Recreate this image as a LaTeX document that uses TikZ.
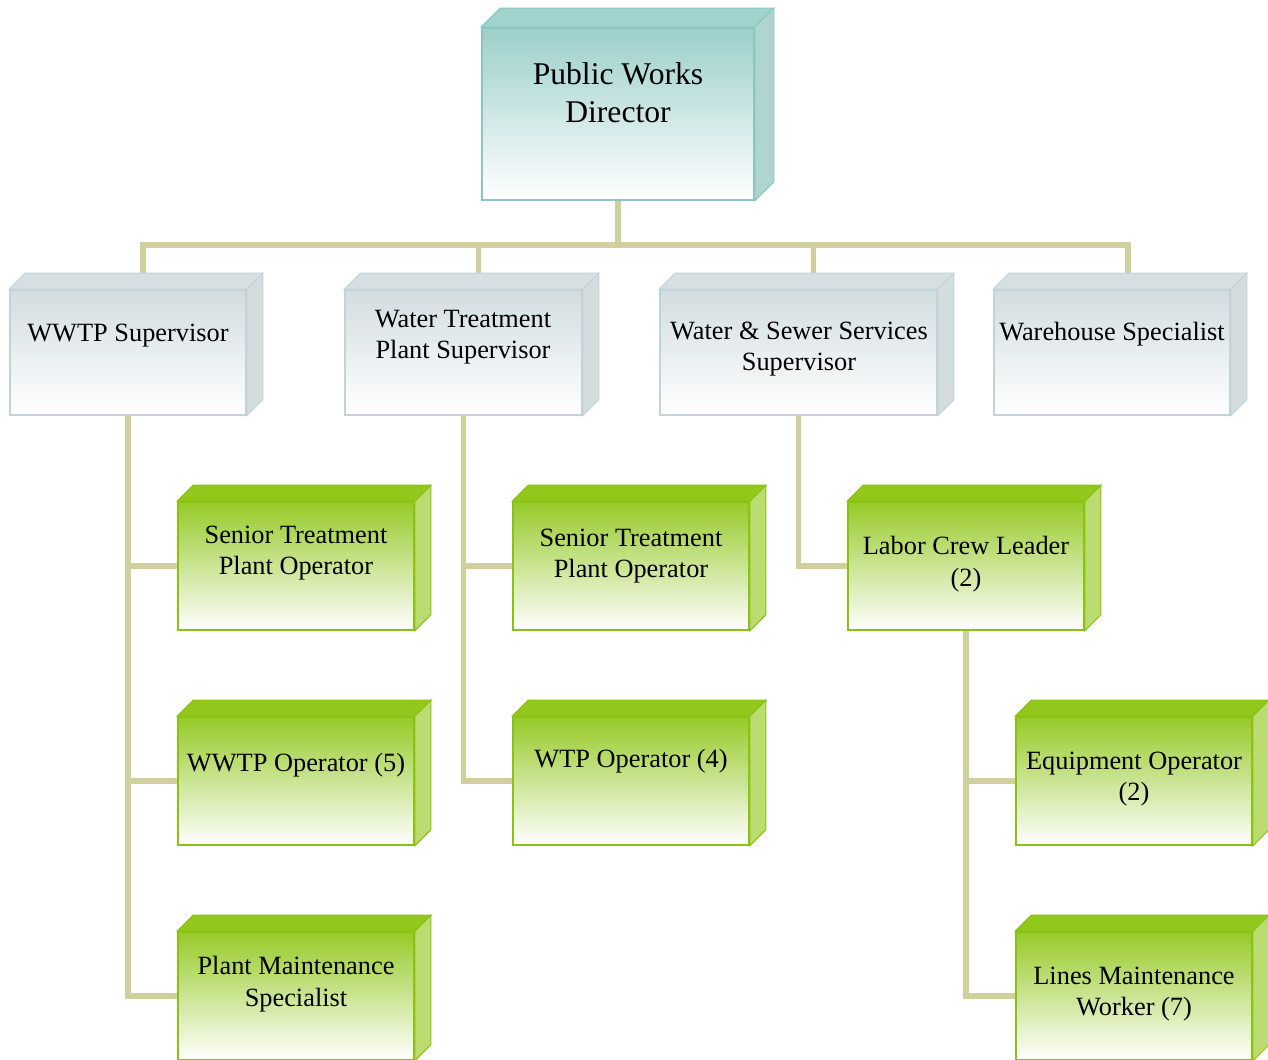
\documentclass[tikz,border=0pt]{standalone}
\usepackage{fontspec}
\setmainfont{Liberation Serif}
\usepackage{tikz}
\usetikzlibrary{calc,positioning}

\definecolor{dirfill}{RGB}{156,207,203}
\definecolor{dirline}{RGB}{138,198,194}
\definecolor{dirtop}{RGB}{160,210,206}
\definecolor{dirside}{RGB}{174,213,209}
\definecolor{supfill}{RGB}{210,221,224}
\definecolor{supline}{RGB}{194,212,217}
\definecolor{suptop}{RGB}{214,223,226}
\definecolor{supside}{RGB}{213,220,222}
\definecolor{opfill}{RGB}{150,202,40}
\definecolor{opline}{RGB}{138,194,18}
\definecolor{optop}{RGB}{146,200,28}
\definecolor{opside}{RGB}{186,220,112}
\definecolor{linkcol}{RGB}{208,208,156}

\pgfdeclarelayer{background}
\pgfsetlayers{background,main}

\tikzset{
  front/.style={draw=#1line, top color=#1fill, bottom color=white, line width=1pt, inner sep=0pt},
  small/.style={minimum width=4.72cm, minimum height=2.56cm},
  link/.style={draw=linkcol, line width=3.4pt},
  lbl/.style={align=center, inner sep=0pt, font=\fontsize{15}{17.9}\selectfont},
  toplbl/.style={align=center, inner sep=0pt, font=\fontsize{18}{21.6}\selectfont}
}

% top and right faces of a box
\newcommand\boxfaces[3]{%
  \filldraw[fill=#2top, draw=#2line, line width=.6pt] (#1.north west) -- ++(#3,-#3)
    -- ($(#1.north east)+(#3,-#3)$) -- (#1.north east) -- cycle;
  \filldraw[fill=#2side, draw=#2line, line width=.6pt] (#1.north east) -- ++(#3,-#3)
    -- ($(#1.south east)+(#3,-#3)$) -- (#1.south east) -- cycle;
}

\begin{document}
\begin{tikzpicture}[x=0.02cm, y=-0.02cm]
\useasboundingbox (0,0) rectangle (1268,1059);
\clip (0,0) rectangle (1268,1059);

% director
\node[front=dir, minimum width=5.44cm, minimum height=3.44cm] (dir) at (618,114) {};
\boxfaces{dir}{dir}{19}

% supervisors
\node[front=sup, minimum width=4.72cm, minimum height=2.5cm] (wwtp) at (128,352.5) {};
\node[front=sup, minimum width=4.74cm, minimum height=2.5cm] (wtp) at (463.5,352.5) {};
\node[front=sup, minimum width=5.54cm, minimum height=2.5cm] (ws) at (798.5,352.5) {};
\node[front=sup, minimum width=4.72cm, minimum height=2.5cm] (wh) at (1112,352.5) {};
\foreach \n in {wwtp,wtp,ws,wh} {\boxfaces{\n}{sup}{16}}

% staff
\node[front=op, small] (sto1) at (296,566) {};
\node[front=op, small] (sto2) at (631,566) {};
\node[front=op, small] (labor) at (966,566) {};
\node[front=op, small] (op1) at (296,781) {};
\node[front=op, small] (op2) at (631,781) {};
\node[front=op, small] (eq) at (1134,781) {};
\node[front=op, small] (pms) at (296,996) {};
\node[front=op, small] (lines) at (1134,996) {};
\foreach \n in {sto1,sto2,labor,op1,op2,eq,pms,lines} {\boxfaces{\n}{op}{16}}

% labels
\node[toplbl] (dir-t) at (618,93) {Public Works\\Director};
\node[lbl] (wwtp-t) at (128,336) {WWTP Supervisor};
\node[lbl] (wtp-t) at (463,337) {Water Treatment\\Plant Supervisor};
\node[lbl] (ws-t) at (799,349) {Water \& Sewer Services\\Supervisor};
\node[lbl] (wh-t) at (1112,334) {Warehouse Specialist};
\node[lbl] (sto1-t) at (296,553) {Senior Treatment\\Plant Operator};
\node[lbl] (sto2-t) at (631,556) {Senior Treatment\\Plant Operator};
\node[lbl] (labor-t) at (966,564) {Labor Crew Leader\\(2)};
\node[lbl] (op1-t) at (296,765) {WWTP Operator (5)};
\node[lbl] (op2-t) at (631,761) {WTP Operator (4)};
\node[lbl] (eq-t) at (1134,779) {Equipment Operator\\(2)};
\node[lbl] (pms-t) at (296,984) {Plant Maintenance\\Specialist};
\node[lbl] (lines-t) at (1134,994) {Lines Maintenance\\Worker (7)};

% connectors
\begin{pgfonlayer}{background}
\coordinate (bar) at (618,245);
\draw[link] (dir.south) -- (bar);
\draw[link] ($(wwtp.north)+(15,0)$) |- (bar);
\draw[link] ($(wtp.north)+(15,0)$) |- (bar);
\draw[link] ($(ws.north)+(15,0)$) |- (bar);
\draw[link] ($(wh.north)+(16,0)$) |- (bar);
\draw[link] (wwtp.south) |- (pms.west);
\draw[link] (wwtp.south |- sto1.west) -- (sto1.west);
\draw[link] (wwtp.south |- op1.west) -- (op1.west);
\draw[link] (wtp.south) |- (op2.west);
\draw[link] (wtp.south |- sto2.west) -- (sto2.west);
\draw[link] (ws.south) |- (labor.west);
\draw[link] (labor.south) |- (lines.west);
\draw[link] (labor.south |- eq.west) -- (eq.west);
\end{pgfonlayer}
\end{tikzpicture}
\end{document}
